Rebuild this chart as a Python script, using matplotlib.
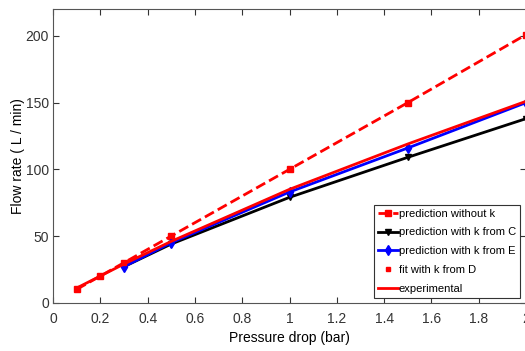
import matplotlib.pyplot as plt
import numpy as np

plt.rcParams['font.family'] = ['Liberation Sans', 'DejaVu Sans']

# pressure drop (bar)
p_nok = [0.1, 0.2, 0.3, 0.5, 1.0, 1.5, 2.0]
q_nok = [10, 20, 30, 50, 100, 150, 201]

p_kC = [0.3, 0.5, 1.0, 1.5, 2.0]
q_kC = [27, 44, 79, 109, 138]

p_kE = [0.3, 0.5, 1.0, 1.5, 2.0]
q_kE = [27, 45, 83, 116, 150]

p_fitD = [0.1, 0.2, 0.3, 0.5, 1.0, 1.5, 2.0]
q_fitD = [10, 20, 30, 50, 100, 150, 201]

p_exp = [0.1, 0.2, 0.3, 0.5, 1.0, 1.5, 2.0]
q_exp = [11, 20, 29, 46, 85, 119, 151]

fig = plt.figure(figsize=(5.25, 3.51), dpi=100)
# axes runs slightly past the right edge of the figure (cropped like the original)
ax = fig.add_axes([0.101, 0.1376, 0.901, 0.836])

ax.plot(p_nok, q_nok, 'r--s', lw=2, ms=4, label='prediction without k')
ax.plot(p_kC, q_kC, 'k-v', lw=2, ms=5, label='prediction with k from C')
ax.plot(p_kE, q_kE, 'b-d', lw=2, ms=5, label='prediction with k from E')
ax.plot(p_fitD, q_fitD, 'rs', ms=3, label='fit with k from D')
ax.plot(p_exp, q_exp, 'r-', lw=2, label='experimental')

ax.set_xlim(0, 2)
ax.set_ylim(0, 220)
ax.set_xticks(np.arange(0, 2.01, 0.2))
ax.set_xticklabels(['0', '0.2', '0.4', '0.6', '0.8', '1', '1.2', '1.4', '1.6', '1.8', '2'])
ax.set_yticks([0, 50, 100, 150, 200])
ax.tick_params(direction='in', top=True, right=True, labelsize=10, colors='#333333',
               length=4)
ax.tick_params(axis='x', pad=7)
ax.tick_params(axis='y', pad=3)
for s in ax.spines.values():
    s.set_color('#555555')

ax.set_xlabel('Pressure drop (bar)', fontsize=10, labelpad=3)
ax.set_ylabel('Flow rate ( L / min)', fontsize=10, labelpad=0)

leg = ax.legend(loc='lower right', fontsize=8, handlelength=1.8, handletextpad=0.1,
                borderpad=0.35, labelspacing=0.8, fancybox=False, framealpha=1,
                borderaxespad=0, bbox_to_anchor=(0.987, 0.016))
leg.get_frame().set_edgecolor('#333333')
leg.get_frame().set_linewidth(0.8)

fig.savefig('out.png', dpi=100)
